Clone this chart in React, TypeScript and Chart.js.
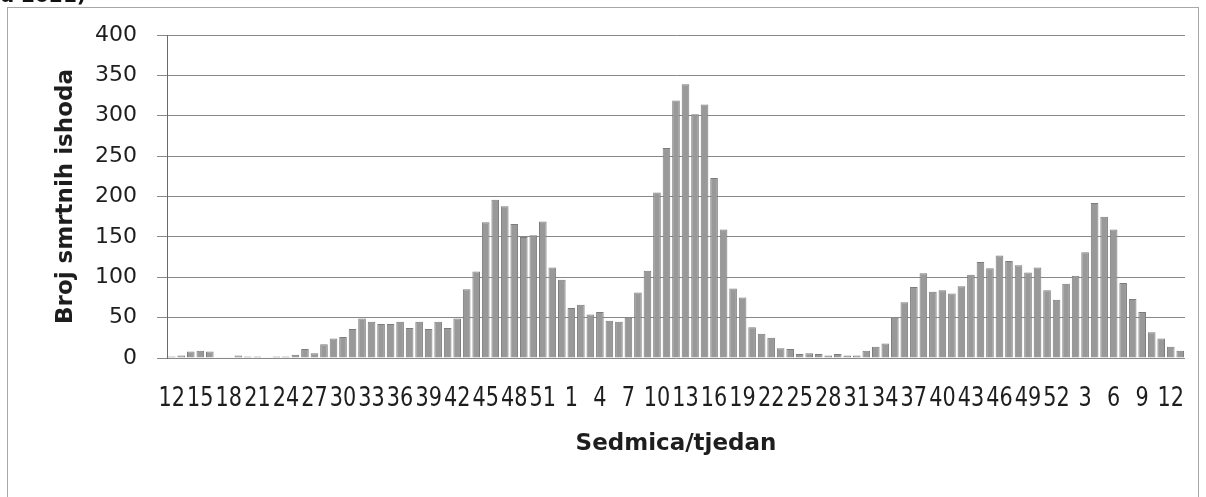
import { useEffect, useRef } from 'react';
import { Chart, registerables } from 'chart.js';

Chart.register(...registerables);

// Week numbers (2020 week 12 .. 2022 week 13)
const weeks2020 = ['12','13','14','15','16','17','18','19','20','21','22','23','24','25','26','27','28','29','30','31','32','33','34','35','36','37','38','39','40','41','42','43','44','45','46','47','48','49','50','51','52','53'];
const weeks2021 = ['1','2','3','4','5','6','7','8','9','10','11','12','13','14','15','16','17','18','19','20','21','22','23','24','25','26','27','28','29','30','31','32','33','34','35','36','37','38','39','40','41','42','43','44','45','46','47','48','49','50','51','52'];
const weeks2022 = ['1','2','3','4','5','6','7','8','9','10','11','12','13'];
const weekLabels = [...weeks2020, ...weeks2021, ...weeks2022];

// Number of deaths per week
const deaths2020 = [2,3,8,9,8,1,1,3,2,2,1,2,2,4,11,6,17,24,26,36,49,45,42,42,45,37,45,36,45,37,49,85,107,168,196,188,166,150,152,169,112,97];
const deaths2021 = [62,66,54,57,46,45,50,81,108,205,260,319,339,302,314,223,159,86,75,38,30,25,12,11,5,6,5,3,5,3,3,9,14,18,50,69,88,105,82,84,80,89,103,119,111,127,120,115,106,112,84,72];
const deaths2022 = [92,102,131,192,175,159,93,73,57,32,24,14,9];
const deaths = [...deaths2020, ...deaths2021, ...deaths2022];

const yMin = 0;
const yMax = 400;
const yStep = 50;
const labelEvery = 3;

const yTitle = 'Broj smrtnih ishoda';
const xTitle = 'Sedmica/tjedan';
const captionFragment = 'u 2021)';

const condensedTicks = {
  id: 'condensedTicks',
  afterDraw(chart: any) {
    const xs = chart.scales.x;
    const ctx = chart.ctx;
    ctx.save();
    ctx.fillStyle = '#1e1e1e';
    ctx.font = '26px "DejaVu Sans"';
    ctx.textAlign = 'center';
    ctx.textBaseline = 'alphabetic';
    weekLabels.forEach((lab, i) => {
      if (i % labelEvery !== 0) return;
      const px = xs.getPixelForValue(i);
      ctx.save();
      ctx.translate(px, xs.top + 48);
      ctx.scale(0.8, 1);
      ctx.fillText(lab, 0, 0);
      ctx.restore();
    });
    ctx.restore();
  },
};

export default function App() {
  const ref = useRef<HTMLCanvasElement | null>(null);

  useEffect(() => {
    document.documentElement.style.overflow = 'hidden';
    document.body.style.overflow = 'hidden';
    const c = ref.current;
    if (!c) return;
    const chart = new Chart(c, {
      type: 'bar',
      data: {
        labels: weekLabels,
        datasets: [
          {
            data: deaths,
            backgroundColor: '#999999',
            borderColor: '#7c7c7c',
            borderWidth: 1,
            barPercentage: 0.8,
            categoryPercentage: 1,
          },
        ],
      },
      options: {
        animation: false,
        responsive: true,
        maintainAspectRatio: false,
        layout: { padding: { left: 0, right: 21, top: 35, bottom: 0 } },
        plugins: { legend: { display: false }, tooltip: { enabled: false } },
        scales: {
          x: {
            type: 'category',
            offset: true,
            grid: { display: false },
            border: { display: false },
            ticks: { display: false },
            title: {
              display: true,
              text: xTitle,
              color: '#1e1e1e',
              font: { family: 'DejaVu Sans', size: 23, weight: 'bold', lineHeight: 1 },
              padding: { top: 0, bottom: 41 },
            },
            afterFit(scale: any) {
              scale.height = 139;
            },
          },
          y: {
            min: yMin,
            max: yMax,
            ticks: {
              stepSize: yStep,
              color: '#1e1e1e',
              padding: 20,
              font: { family: 'DejaVu Sans', size: 22 },
            },
            grid: { color: '#888888', lineWidth: 1, tickLength: 10, drawTicks: true },
            border: { display: true, color: '#6a6a6a', width: 1 },
            title: {
              display: true,
              text: yTitle,
              color: '#1e1e1e',
              font: { family: 'DejaVu Sans', size: 23, weight: 'bold', lineHeight: 1 },
              padding: { top: 55, bottom: 0 },
            },
            afterFit(scale: any) {
              scale.width = 167;
            },
          },
        },
      },
      plugins: [condensedTicks],
    });
    return () => chart.destroy();
  }, []);

  return (
    <div>
      <div
        style={{
          position: 'fixed',
          left: 0,
          top: -17,
          fontFamily: '"DejaVu Sans"',
          fontWeight: 'bold',
          fontSize: 20,
          color: '#111',
          whiteSpace: 'nowrap',
        }}
      >
        {captionFragment}
      </div>
      <div
        style={{
          position: 'fixed',
          left: 7,
          top: 7,
          width: 1192,
          height: 520,
          border: '1px solid #a8a8a8',
          boxSizing: 'border-box',
        }}
      />
      <div style={{ position: 'fixed', left: 0, top: 0, width: 1206, height: 497 }}>
        <canvas ref={ref} />
      </div>
    </div>
  );
}
